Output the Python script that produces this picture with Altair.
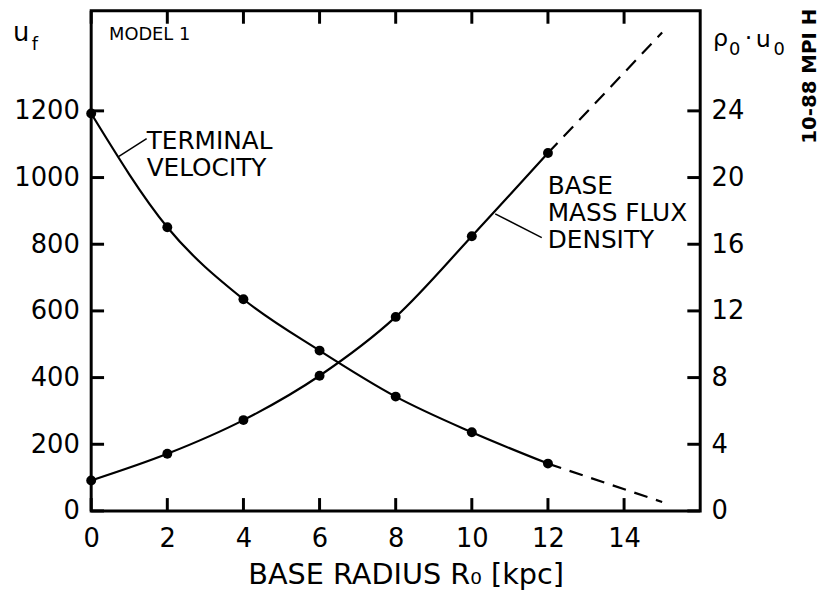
import altair as alt
import pandas as pd

# ---- data ----
radius = [0, 2, 4, 6, 8, 10, 12]
terminal_velocity = [1192, 851, 635, 481, 343, 236, 142]
mass_flux = [1.83, 3.43, 5.45, 8.11, 11.64, 16.48, 21.47]
ext_radius = [12, 15]
tv_extension = [142, 27]
mf_extension = [21.47, 28.7]

x_tick_values = [0, 2, 4, 6, 8, 10, 12, 14]
left_tick_values = [0, 200, 400, 600, 800, 1000, 1200]
right_tick_values = [0, 4, 8, 12, 16, 20, 24]

FONT = "DejaVu Sans"
W, H = 615, 505
TICK = 13
TC = "black"

df_tv = pd.DataFrame({"r": radius, "u": terminal_velocity})
df_tv_ext = pd.DataFrame({"r": ext_radius, "u": tv_extension})
df_mf = pd.DataFrame({"r": radius, "m": mass_flux})
df_mf_ext = pd.DataFrame({"r": ext_radius, "m": mf_extension})
df_xt = pd.DataFrame({"r": x_tick_values})
df_lt = pd.DataFrame({"u": left_tick_values})
df_rt = pd.DataFrame({"m": right_tick_values})

common_axis = dict(
    title=None, domain=False, grid=False, ticks=False,
    labelColor="black", labelFont=FONT,
    labelFontSize=26, labelOverlap=False, labelFlush=False,
)

X = alt.X("r:Q", scale=alt.Scale(domain=[0, 16], nice=False, zero=False),
          axis=alt.Axis(values=x_tick_values, labelPadding=15, **common_axis))
YL = alt.Y("u:Q", scale=alt.Scale(domain=[0, 1500], nice=False),
           axis=alt.Axis(orient="left", values=left_tick_values, format="d",
                         labelPadding=12, **common_axis))
YR = alt.Y("m:Q", scale=alt.Scale(domain=[0, 30], nice=False),
           axis=alt.Axis(orient="right", values=right_tick_values, format="d",
                         labelPadding=11, **common_axis))

LW = 2.2
DASH = [14, 9]
TW = 3

tv_layer = alt.layer(
    alt.Chart(df_tv).mark_line(interpolate="monotone", color="black", strokeWidth=LW).encode(x=X, y=YL),
    alt.Chart(df_tv_ext).mark_line(color="black", strokeWidth=LW, strokeDash=DASH).encode(x=X, y=YL),
    alt.Chart(df_tv).mark_circle(size=100, color="black", opacity=1).encode(x=X, y=YL),
    alt.Chart(df_lt).mark_rule(color=TC, strokeWidth=TW).encode(
        y=YL, x=alt.value(0), x2=alt.value(TICK)),
)
mf_layer = alt.layer(
    alt.Chart(df_mf).mark_line(interpolate="monotone", color="black", strokeWidth=LW).encode(x=X, y=YR),
    alt.Chart(df_mf_ext).mark_line(color="black", strokeWidth=LW, strokeDash=DASH).encode(x=X, y=YR),
    alt.Chart(df_mf).mark_circle(size=100, color="black", opacity=1).encode(x=X, y=YR),
    alt.Chart(df_rt).mark_rule(color=TC, strokeWidth=TW).encode(
        y=YR, x=alt.value(W - TICK), x2=alt.value(W)),
)

bottom_ticks = alt.Chart(df_xt).mark_rule(color=TC, strokeWidth=TW).encode(
    x=X, y=alt.value(H - TICK), y2=alt.value(H))
top_ticks = alt.Chart(df_xt).mark_rule(color=TC, strokeWidth=TW).encode(
    x=X, y=alt.value(0), y2=alt.value(TICK))


def label(text, x, y, size, align="left", baseline="alphabetic", angle=0, weight="normal"):
    return alt.Chart(pd.DataFrame({"t": [text]})).mark_text(
        align=align, baseline=baseline, fontSize=size, font=FONT,
        fontWeight=weight, angle=angle, color="black",
    ).encode(x=alt.value(x), y=alt.value(y), text="t:N")


def leader(x1, y1, x2, y2):
    return alt.Chart(pd.DataFrame({"a": [0]})).mark_rule(color="black", strokeWidth=1.5).encode(
        x=alt.value(x1), y=alt.value(y1), x2=alt.value(x2), y2=alt.value(y2))


# plot origin is at page (92, 8)
annotations = [
    label("MODEL 1", 18, 29, 18),
    label("TERMINAL", 56, 140, 25),
    label("VELOCITY", 56, 167, 25),
    leader(28, 147, 56, 129),
    label("BASE", 461, 185, 25),
    label("MASS FLUX", 461, 212, 25),
    label("DENSITY", 461, 239, 25),
    leader(408, 205, 455, 229),
    label("BASE RADIUS R₀ [kpc]", 318, 579, 29, align="center"),
    label("u", -79, 30, 26),
    label("f", -60, 40, 18),
    label("ρ", 628, 35, 24),
    label("0", 644, 45, 18),
    label("·", 660, 35, 24),
    label("u", 671, 37, 24),
    label("0", 689, 45, 18),
    label("10-88 MPI H", 726, 66, 20, align="center", baseline="middle", angle=270, weight="bold"),
]

chart = alt.layer(tv_layer, mf_layer, bottom_ticks, top_ticks, *annotations).resolve_scale(
    y="independent"
).properties(
    width=W, height=H,
    padding={"left": 84, "top": 0, "right": 124, "bottom": 83},
    autosize=alt.AutoSizeParams(type="none"),
).configure_view(stroke="black", strokeWidth=3)

chart.save("out.html", embed_options={"renderer": "svg", "actions": False})
